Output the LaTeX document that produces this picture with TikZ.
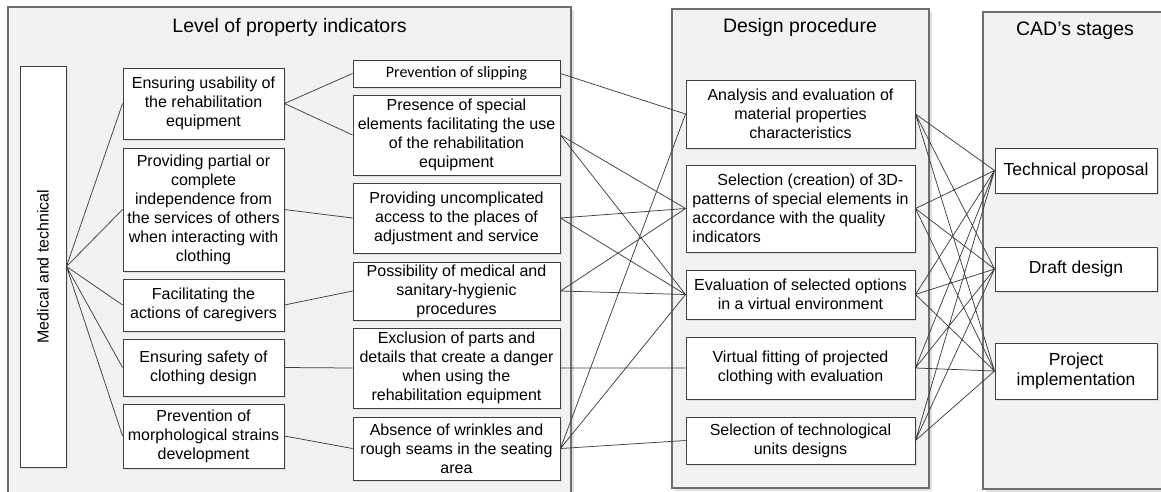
\documentclass[tikz,border=0pt]{standalone}
\usepackage{fontspec}
\setmainfont{Liberation Sans}
\newfontfamily\slipfont{Carlito}
\usetikzlibrary{shadows}

\definecolor{panelgray}{HTML}{F2F2F2}
\definecolor{framegray}{HTML}{6E6E6E}
\definecolor{edgegray}{HTML}{404040}

\tikzset{
  panel/.style={draw=framegray, line width=1.3pt, fill=panelgray,
    drop shadow={shadow xshift=2.5pt, shadow yshift=-2.5pt, fill=black!30, opacity=.4}},
  box/.style={draw=edgegray, line width=0.9pt, fill=white, inner sep=0pt, align=center,
    font=\fontsize{16}{19}\selectfont,
    drop shadow={shadow xshift=2pt, shadow yshift=-2pt, fill=black!30, opacity=.3}},
  firstcol/.style={box, minimum width=161pt},
  secondcol/.style={box, minimum width=207pt},
  designcol/.style={box, minimum width=229pt},
  stagecol/.style={box, minimum width=162pt, font=\fontsize{17.5}{20}\selectfont},
  paneltitle/.style={font=\fontsize{19.5}{22}\selectfont},
  link/.style={draw=edgegray, line width=0.75pt}
}

\begin{document}
\begin{tikzpicture}[x=1pt, y=-1pt]
        \useasboundingbox (0,0) rectangle (1161,491);
        \clip (0,0) rectangle (1161,491);

        % Three panels
        \draw[panel] (8,7) rectangle (571,505);
        \draw[panel] (672,9) rectangle (929,488);
        \draw[panel] (983,12) rectangle (1175,489);
        \node[paneltitle] (lvltitle) at (289.5,27) {Level of property indicators};
        \node[paneltitle] (dsgtitle) at (800,27) {Design procedure};
        \node[paneltitle] (cadtitle) at (1075,31) {CAD’s stages};

        % Property indicators
        \node[box, minimum width=46pt, minimum height=401pt] (med) at (43,266.5)
            {\rotatebox{90}{Medical and technical}};

        \node[firstcol, minimum height=71pt] (usab) at (203.5,103.5)
            {Ensuring usability of\\the rehabilitation\\equipment};
        \node[firstcol, minimum height=123pt] (indep) at (203.5,209.5)
            {Providing partial or\\complete\\independence from\\the services of others\\when interacting with\\clothing};
        \node[firstcol, minimum height=52pt] (caregiv) at (203.5,305)
            {Facilitating the\\actions of caregivers};
        \node[firstcol, minimum height=57pt] (safety) at (203.5,367.5)
            {Ensuring safety of\\clothing design};
        \node[firstcol, minimum height=64pt] (morph) at (203.5,436)
            {Prevention of\\morphological strains\\development};

        \node[secondcol, minimum height=27pt, font=\slipfont\fontsize{16}{19}\selectfont] (slip) at (456.5,73.5)
            {Prevention of slipping};
        \node[secondcol, minimum height=80pt] (special) at (456.5,135)
            {Presence of special\\elements facilitating the use\\of the rehabilitation\\equipment};
        \node[secondcol, minimum height=70pt] (access) at (456.5,218)
            {Providing uncomplicated\\access to the places of\\adjustment and service};
        \node[secondcol, minimum height=58pt] (hygien) at (456.5,291)
            {Possibility of medical and\\sanitary-hygienic\\procedures};
        \node[secondcol, minimum height=80pt] (danger) at (456.5,368)
            {Exclusion of parts and\\details that create a danger\\when using the\\rehabilitation equipment};
        \node[secondcol, minimum height=63pt] (wrinkl) at (456.5,448.5)
            {Absence of wrinkles and\\rough seams in the seating\\area};

        % Design procedure
        \node[designcol, minimum height=68pt] (analys) at (800.5,114)
            {Analysis and evaluation of\\material properties\\characteristics};
        \node[designcol, minimum height=87pt, align=left] (patterns) at (800.5,208.5)
            {\hspace*{25pt}Selection (creation) of 3D-\\patterns of special elements in\\accordance with the quality\\indicators};
        \node[designcol, minimum height=49pt] (virtenv) at (800.5,294.5)
            {Evaluation of selected options\\in a virtual environment};
        \node[designcol, minimum height=62pt] (fitting) at (800.5,368)
            {Virtual fitting of projected\\clothing with evaluation};
        \node[designcol, minimum height=47pt] (units) at (800.5,440.5)
            {Selection of technological\\units designs};

        % CAD stages
        \node[stagecol, minimum height=45pt] (proposal) at (1076,170.5) {Technical proposal};
        \node[stagecol, minimum height=44pt] (draft) at (1076,269) {Draft design};
        \node[stagecol, minimum height=56pt] (implem) at (1076,371) {Project\\implementation};

        % Connections
        \draw[link] (med.east) -- (usab.west) (med.east) -- (indep.west)
            (med.east) -- (caregiv.west) (med.east) -- (safety.west)
            (med.east) -- (morph.west);
        \draw[link] (usab.east) -- (slip.west) (usab.east) -- (special.west)
            (indep.east) -- (access.west) (caregiv.east) -- (hygien.west)
            (safety.east) -- (danger.west) (morph.east) -- (wrinkl.west);
        \draw[link] (slip.east) -- (analys.west)
            (special.east) -- (patterns.west) (special.east) -- (virtenv.west)
            (access.east) -- (patterns.west) (access.east) -- (virtenv.west)
            (hygien.east) -- (patterns.west) (hygien.east) -- (virtenv.west)
            (danger.east) -- (fitting.west)
            (wrinkl.east) -- (analys.west) (wrinkl.east) -- (virtenv.west)
            (wrinkl.east) -- (units.west);
        \draw[link] (analys.east) -- (proposal.west) (analys.east) -- (draft.west) (analys.east) -- (implem.west)
            (patterns.east) -- (proposal.west) (patterns.east) -- (draft.west) (patterns.east) -- (implem.west)
            (virtenv.east) -- (proposal.west) (virtenv.east) -- (draft.west) (virtenv.east) -- (implem.west)
            (fitting.east) -- (proposal.west) (fitting.east) -- (draft.west) (fitting.east) -- (implem.west)
            (units.east) -- (proposal.west) (units.east) -- (draft.west) (units.east) -- (implem.west);
    \end{tikzpicture}
\end{document}
